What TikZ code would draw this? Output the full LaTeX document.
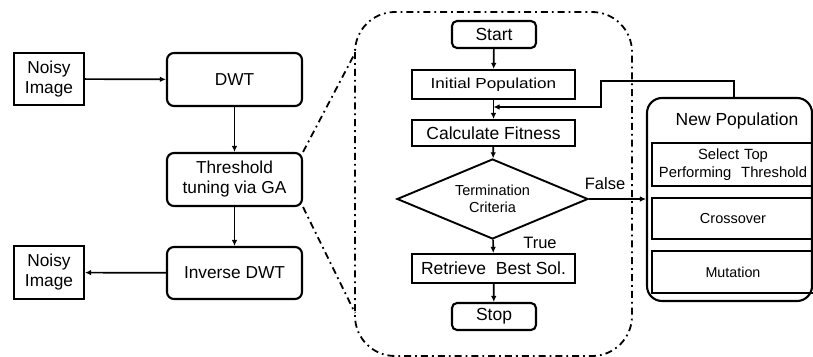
\documentclass[tikz,border=0pt]{standalone}
\usepackage{fontspec}
\setmainfont{Liberation Sans}
\usetikzlibrary{shapes.geometric,arrows.meta,calc}
\newcommand{\fsz}[2]{\fontsize{#1}{#2}\selectfont}
\tikzset{
  rbox/.style={draw, line width=2.1pt, rounded corners=7pt, align=center, inner sep=0pt},
  sbox/.style={draw, line width=2.1pt, align=center, inner sep=0pt},
  arr/.style={-{Latex[length=6pt,width=5.5pt]}, line width=1.7pt},
  dd/.style={line width=1.8pt, dash pattern=on 7pt off 4pt on 1.8pt off 4pt},
  mainf/.style={font=\fsz{17.3}{20}},
}
\begin{document}
\begin{tikzpicture}[x=1pt,y=-1pt]
\useasboundingbox (0,0) rectangle (813,356);
% left chain
\node[sbox, mainf, minimum width=70pt, minimum height=52pt] (n1) at (49,79) {Noisy\\Image};
\node[rbox, mainf, minimum width=135pt, minimum height=53pt] (dwt) at (234.5,79.5) {DWT};
\node[rbox, mainf, minimum width=135pt, minimum height=53pt] (thr) at (234.5,179.5) {Threshold\\tuning via GA};
\node[rbox, mainf, minimum width=135pt, minimum height=52pt] (inv) at (234.5,273) {Inverse DWT};
\node[sbox, mainf, minimum width=70pt, minimum height=53pt] (n2) at (49,272.5) {Noisy\\Image};
\draw[arr] (n1) -- (dwt);
\draw[arr] (dwt) -- (thr);
\draw[arr] (thr) -- (inv);
\draw[arr] (inv) -- (n2);
% zoom frame
\draw[dd, rounded corners=40pt] (355,12) rectangle (632,356);
\coordinate (ztop) at (355,53);
\coordinate (zbot) at (355,313);
\draw[dd] (thr.north east) -- (ztop);
\draw[dd] (thr.south east) -- (zbot);
% GA flow
\node[rbox, font=\fsz{17.5}{20}, rounded corners=5pt, minimum width=84pt, minimum height=27pt] (start) at (494,34.5) {Start};
\node[sbox, font=\fsz{14.5}{17}, minimum width=163pt, minimum height=29pt] (init) at (493.5,84.5) {\scalebox{1.18}[1]{Initial Population}};
\node[sbox, font=\fsz{17.5}{20}, minimum width=163pt, minimum height=26pt] (calc) at (493.5,133) {Calculate Fitness};
\node[diamond, draw, line width=1.9pt, aspect=2.39, inner sep=0pt, minimum width=191pt, minimum height=80pt, align=center, font=\fsz{14.5}{17.5}] (diam) at (492.5,199) {Termination\\Criteria};
\node[sbox, font=\fsz{17.5}{20}, minimum width=163pt, minimum height=29pt] (ret) at (493.5,268.5) {Retrieve\ \ Best Sol.};
\node[rbox, font=\fsz{17.5}{20}, rounded corners=5pt, minimum width=84pt, minimum height=27pt] (stop) at (494,316.5) {Stop};
\coordinate (fb) at (493.5,107);
\draw[arr] (start) -- (init);
\draw[arr] (init) -- (calc);
\draw[arr] (calc) -- (diam);
\draw[arr] (diam) -- (ret);
\draw[arr] (ret) -- (stop);
\node[font=\fsz{16.5}{20}] (tl) at (540,243) {True};
% new population
\node[draw, line width=2.1pt, rounded corners=15pt, minimum width=165pt, minimum height=203pt, inner sep=0pt] (np) at (729.5,199.5) {};
\node[font=\fsz{17.5}{20}] (npl) at (737,121) {New Population};
\node[sbox, font=\fsz{14.8}{18}, minimum width=170pt, minimum height=43pt, text width=162pt, align=center] (sel) at (737,164.5) {\hspace*{-8pt}Select Top\\\hspace*{-8pt}Performing\ \ Threshold};
\node[sbox, font=\fsz{14.5}{18}, minimum width=170pt, minimum height=41pt, text width=162pt, align=center] (cro) at (737,218.5) {\hspace*{-8pt}Crossover};
\node[sbox, font=\fsz{14.3}{18}, minimum width=170pt, minimum height=42pt, text width=162pt, align=center] (mut) at (737,272) {\hspace*{-8pt}Mutation};
\draw[arr] (diam.east) -- (diam.east -| np.west);
\node[font=\fsz{16.5}{20}] (fl) at (605,184) {False};
\coordinate (fbk) at (601,81);
\draw[arr] ([xshift=4.5pt]np.north) |- (fbk) |- (fb);
\end{tikzpicture}
\end{document}
